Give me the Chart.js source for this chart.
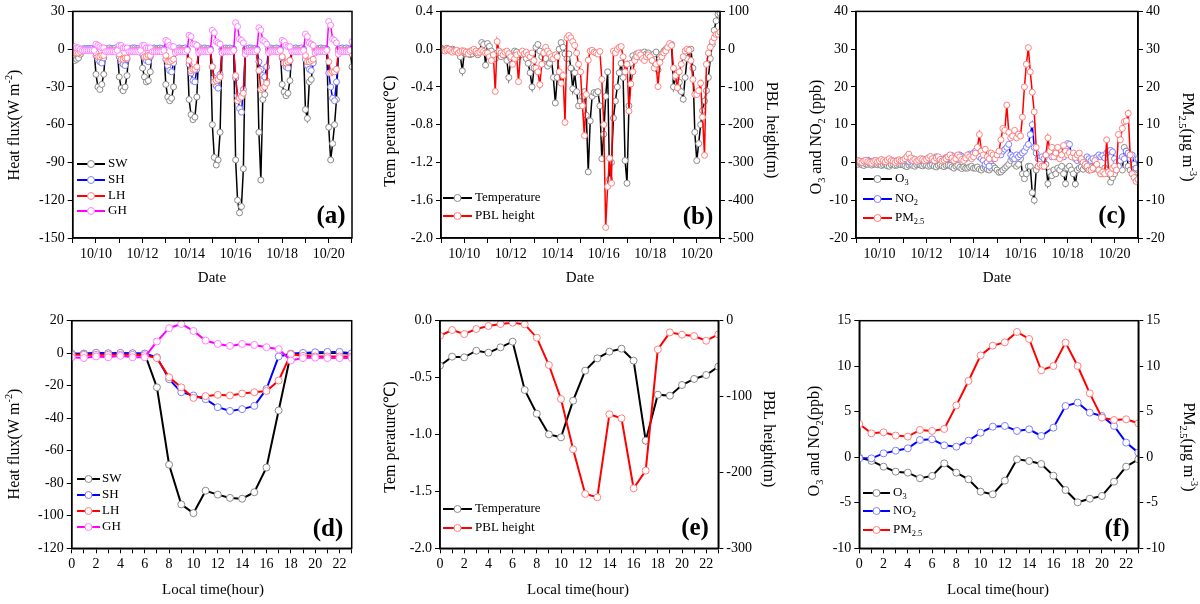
<!DOCTYPE html>
<html>
<head>
<meta charset="utf-8">
<script src="https://cdn.jsdelivr.net/npm/chart.js@4.4.1/dist/chart.umd.min.js"></script>
<style>
  html, body { margin: 0; padding: 0; background: #fff; }
  #wrap { position: relative; width: 1200px; height: 604px; overflow: hidden; }
  canvas { position: absolute; left: 0; top: 0; }
</style>
</head>
<body>
<div id="wrap">
  <canvas id="pa" width="1200" height="604"></canvas>
  <canvas id="pb" width="1200" height="604"></canvas>
  <canvas id="pc" width="1200" height="604"></canvas>
  <canvas id="pd" width="1200" height="604"></canvas>
  <canvas id="pe" width="1200" height="604"></canvas>
  <canvas id="pf" width="1200" height="604"></canvas>
</div>
<script>
// ---- date axis (top row): one tick per day, label every other day ----
const DAYS = ['10/09','10/10','10/11','10/12','10/13','10/14','10/15','10/16','10/17','10/18','10/19','10/20','10/21'];
const STEP_DAYS = 2 / 24;   // series below are 2-hourly, starting 10/09 00:00

// (a) heat flux anomalies, W m-2  (one line = one day, 00..22h)
const SW = [
  -6,-9,-8,-7,-4,0,0,0,0,0,0,0,
  -20,-30,-32,-28,-20,0,0,0,0,0,0,0,
  -22,-31,-33,-30,-21,0,0,0,0,0,0,0,
  -15,-22,-26,-25,-18,0,0,0,0,0,0,0,
  -28,-38,-41,-39,-30,0,0,0,0,0,0,0,
  -40,-52,-56,-54,-38,0,0,0,0,0,0,0,
  -60,-86,-92,-88,-66,0,0,0,0,0,0,0,
  -88,-120,-130,-125,-95,0,0,0,0,0,0,0,
  -66,-104,-40,-36,-25,0,0,0,0,0,0,0,
  -28,-34,-37,-35,-25,0,0,0,0,0,0,0,
  -48,-55,-26,-24,-10,0,0,0,0,0,0,0,
  -62,-88,-75,-60,-40,0,0,0,0,0,0,0,
  -14
];
const SH = [
  -1,-2,-3,-3,-2,0,0.5,0.5,0.5,0.5,0.5,0,
  -5,-8,-10,-11,-7,0,0.5,1,0.5,0.5,1,0,
  -6,-10,-12,-13,-8,0,0.5,1,1,0.5,0.5,0,
  -4,-7,-9,-10,-6,0,1,0.5,0.5,1,0.5,0,
  -8,-13,-17,-18,-11,0,0.5,1,0.5,0.5,1,0,
  -12,-19,-25,-26,-16,0,1,0.5,1,0.5,0.5,0,
  -14,-23,-29,-31,-20,0,0.5,1,0.5,1,0.5,0,
  -23,-37,-47,-50,-32,-1,0.5,1,1,0.5,0.5,0,
  -10,-16,-21,-22,-14,0,1,0.5,0.5,1,0.5,0,
  -7,-11,-14,-15,-9,0,0.5,1,0.5,0.5,1,0,
  -8,-13,-16,-17,-11,0,0.5,0.5,1,0.5,0.5,0,
  -19,-30,-39,-41,-26,-1,0.5,1,0.5,1,0.5,0,
  -3
];
const LH = [
  -2,-3,-3,-3,-2,-1,-1,-1,-1,-1,-1,-1,
  -3,-6,-6,-5,-5,-1,-1,-1,-1,-1,-1,-1,
  -4,-8,-8,-7,-7,-1,-1,-1,-1,-1,-1,-1,
  -3,-6,-6,-5,-5,-1,-1,-1,-1,-1,-1,-1,
  -5,-10,-10,-9,-8,-1,-1,-1,-1,-1,-1,-1,
  -9,-17,-16,-16,-14,-1,-1,-1,-1,-1,-1,-1,
  -14,-26,-25,-24,-22,-2,-1,-1,-1,-1,-1,-1,
  -21,-41,-39,-38,-35,-2,-2,-1,-1,-1,-1,-1,
  -17,-32,-31,-30,-27,-2,-1,-1,-1,-1,-1,-1,
  -6,-11,-11,-10,-9,-1,-1,-1,-1,-1,-1,-1,
  -5,-10,-10,-9,-8,-1,-1,-1,-1,-1,-1,-1,
  -10,-19,-18,-18,-16,-1,-1,-1,-1,-1,-1,-1,
  -4
];
const GH = [
  2,2,1,1,0,-1,-1,-1,-1,-1,-1,-1,
  4,3,2,1,1,-2,-2,-2,-2,-2,-2,-1,
  3,3,1,1,1,-2,-2,-2,-2,-2,-2,-1,
  3,3,1,1,1,-2,-2,-2,-2,-2,-2,-1,
  7,6,3,2,2,-3,-2,-2,-2,-2,-2,-1,
  11,10,4,4,3,-3,-2,-2,-2,-2,-2,-1,
  15,13,6,5,4,-3,-2,-2,-2,-2,-2,-1,
  21,18,8,7,5,-4,-2,-2,-2,-2,-2,-1,
  17,15,7,6,4,-3,-2,-2,-2,-2,-2,-1,
  7,6,3,2,2,-2,-2,-2,-2,-2,-2,-1,
  12,10,5,4,3,-3,-2,-2,-2,-2,-2,-1,
  22,19,8,7,5,-4,-2,-2,-2,-2,-2,-1,
  6
];

// (b) temperature (degC) and PBL height (m)
const TEMP = [
  0.01,0.00,-0.01,0.01,0.00,-0.02,0.00,-0.01,-0.03,-0.02,-0.08,-0.23,
  -0.04,-0.05,-0.03,-0.06,-0.05,-0.02,-0.04,-0.06,-0.02,0.07,0.05,-0.17,
  0.06,0.03,-0.02,-0.06,-0.10,-0.04,-0.05,-0.08,-0.06,-0.04,-0.12,-0.30,
  -0.10,-0.05,-0.02,-0.03,-0.08,-0.06,-0.03,-0.05,-0.10,-0.15,-0.25,-0.40,
  -0.20,0.02,0.05,-0.02,-0.08,-0.05,-0.10,-0.18,-0.15,-0.10,-0.30,-0.57,
  -0.30,0.00,0.07,0.02,-0.05,-0.10,-0.05,-0.20,-0.42,-0.25,-0.45,-0.60,
  -0.55,-0.50,-0.45,-0.70,-1.30,-0.76,-0.50,-0.46,-0.47,-0.45,-0.60,-1.16,
  -0.90,-0.50,-0.24,-1.38,-1.20,-0.73,-0.55,-0.40,-0.25,-0.15,-0.30,-1.18,
  -1.42,-0.60,-0.15,-0.07,-0.10,-0.05,-0.08,-0.04,-0.06,-0.03,-0.05,-0.04,
  -0.08,-0.12,-0.05,-0.03,-0.22,-0.10,-0.05,-0.02,0.00,0.02,0.04,0.05,
  -0.40,-0.30,-0.25,-0.35,-0.45,-0.53,-0.30,-0.10,-0.02,0.00,-0.20,-0.88,
  -1.18,-1.00,-0.80,-0.65,-0.55,-0.44,-0.30,-0.10,0.05,0.20,0.30,0.37,
  0.38
];
const PBL = [
  0,-3,-5,-2,0,-4,-8,-5,-3,-10,-6,-4,
  -5,-8,-12,-6,-3,0,-5,-10,-8,-3,-6,-10,
  -10,-20,-30,-15,-112,20,-5,-10,-15,-8,-5,-12,
  -20,-40,-25,-15,-86,-10,-5,-12,-8,-15,-20,-10,
  -30,-50,-60,-94,-40,-10,5,-5,-12,-20,-25,-15,
  -20,-60,-90,-70,-194,30,36,30,20,10,-10,-40,
  -60,-150,-229,-120,-29,-5,-3,-8,-10,-13,-6,-80,
  -200,-472,-364,-289,-355,-5,-10,0,5,7,-20,-60,
  -40,-164,-92,-60,-30,-20,-10,-15,-25,-30,-20,-15,
  -20,-30,-50,-40,-99,-35,-20,-10,-5,5,15,10,
  -50,-70,-102,-60,-40,-20,-5,0,-3,-30,-80,-120,
  -120,-110,-90,-180,-281,-40,-10,5,20,30,39,40,
  45
];

// (c) O3, NO2 (ppb) and PM2.5 (ug m-3)
const O3 = [
  -0.3,-0.5,-0.2,-0.6,-0.8,-0.4,-0.5,-0.3,-0.7,-0.5,-0.4,-0.6,
  -0.5,-0.8,-0.6,-0.4,-0.9,-1.0,-0.6,-0.5,-0.8,-0.7,-0.5,-0.6,
  -0.6,-0.9,-1.1,-0.7,-0.5,-0.8,-1.0,-0.6,-0.4,-0.7,-0.9,-0.6,
  -0.7,-1.0,-0.8,-0.6,-1.0,-1.2,-0.8,-0.6,-0.9,-1.1,-0.8,-0.7,
  -0.8,-1.2,-1.5,-1.0,-0.8,-1.3,-1.6,-1.2,-1.5,-1.5,-1.2,-1.0,
  -1.5,-1.5,-1.2,-1.8,-2.0,-1.5,-1.2,-1.8,-2.0,-1.5,-1.0,-1.5,
  -2.0,-2.6,-2.5,-2.0,-1.5,-1.0,-0.5,0.5,1.0,-0.5,-1.0,-0.5,
  1.0,-3.0,-4.3,-3.0,-1.0,-1.0,-8.0,-10.0,-2.0,-1.0,-0.5,-0.8,
  -1.0,-0.5,-5.6,-2.5,-3.5,-2.0,-3.0,-1.5,-2.0,-1.0,-3.0,-5.6,
  -1.5,-1.0,-2.0,-3.0,-5.7,-2.0,-1.5,-1.2,-1.8,-1.0,-1.5,-2.0,
  -1.2,-1.8,-1.0,-1.5,-2.0,-3.0,-3.0,-1.5,-2.0,-3.0,-5.2,-4.0,
  -3.0,-2.0,-1.0,-1.5,-2.0,4.0,3.0,-1.0,-2.0,-3.0,-1.5,-2.5,
  -2.0
];
const NO2 = [
  0.3,0.5,0.2,0.0,0.3,0.4,0.6,0.3,0.2,0.4,0.5,0.3,
  0.4,0.6,0.3,0.2,0.5,0.8,0.6,0.4,0.3,0.5,0.6,0.4,
  0.5,0.8,0.6,0.3,0.7,1.0,0.8,0.5,0.4,0.7,0.9,0.6,
  0.8,1.2,0.9,0.6,1.0,1.5,1.2,0.8,0.6,1.0,1.3,1.0,
  1.2,1.8,1.0,0.8,1.5,2.0,1.6,1.2,1.0,1.8,2.2,2.0,
  2.5,3.0,2.2,1.5,1.0,0.5,-0.5,0.0,-1.0,0.5,1.0,1.5,
  2.0,2.5,2.0,3.0,3.5,4.0,4.8,2.0,1.5,1.0,2.0,1.5,
  2.0,2.5,3.0,4.0,4.8,7.4,10.0,4.0,2.5,1.0,0.5,1.5,
  1.0,2.0,2.5,3.0,1.5,2.5,1.5,2.0,3.0,2.0,1.5,4.0,
  5.0,4.8,2.0,1.5,1.0,0.5,1.2,0.5,0.0,0.8,1.5,1.0,
  0.5,1.0,0.3,1.5,2.0,1.5,1.8,1.2,2.5,3.0,3.2,2.8,
  1.0,0.0,-1.0,0.5,1.5,1.0,3.0,2.5,1.0,2.0,-0.5,-1.5,
  1.0
];
const PM25 = [
  0.2,0.5,0.3,0.0,0.4,0.6,0.2,0.0,-0.2,0.3,0.5,0.2,
  0.4,0.8,0.5,0.2,0.6,1.0,0.5,0.3,0.0,0.4,0.7,0.5,
  0.6,1.0,1.5,2.2,1.2,0.5,0.8,0.3,0.6,1.0,0.8,0.5,
  0.8,1.2,1.6,1.0,0.5,1.2,1.5,0.8,0.4,0.6,1.0,1.5,
  2.0,1.2,0.5,1.0,2.0,1.5,0.8,0.5,1.2,2.0,1.5,1.0,
  1.5,2.5,4.0,7.4,3.0,2.0,3.5,1.5,1.0,2.5,2.0,1.0,
  2.0,3.0,6.0,9.0,8.5,15.2,8.0,6.5,7.0,8.5,6.5,7.5,
  7.0,12.0,20.0,26.0,30.4,24.0,18.6,13.4,4.0,-1.0,-0.5,-1.0,
  -1.0,2.0,6.5,3.0,4.0,1.5,2.5,4.0,1.0,2.0,4.5,3.0,
  2.0,2.6,1.5,2.5,1.3,2.0,2.5,1.0,0.0,-0.5,-1.0,-2.0,
  -2.0,-1.5,0.5,-0.5,-2.0,-3.0,-2.5,-3.0,6.0,-2.5,-3.0,-1.5,
  -1.0,-2.0,7.4,6.0,9.0,10.8,11.0,13.0,2.0,-3.0,-4.0,-5.0,
  -4.5
];

// ---- diurnal composites (bottom row), local hour 0..23 ----
const HOURS = [0,1,2,3,4,5,6,7,8,9,10,11,12,13,14,15,16,17,18,19,20,21,22,23];
const SW_H = [-0.3,-0.3,-0.2,-0.3,-0.2,-0.3,-0.3,-21,-68.6,-93,-98.4,-84.6,-87,-89,-89.5,-85.5,-70.3,-35.2,-0.3,-0.2,0,0.1,0.2,-0.3];
const SH_H = [-0.4,-0.3,0.3,0,0.2,0,-0.2,-2.5,-16,-24,-26,-28.3,-33.2,-35.5,-34.4,-32.4,-22,-2,-0.4,0.2,0.6,0.8,0.8,0];
const LH_H = [-1,-1,-1,-1,-1,-1,-1.2,-3,-14.8,-21,-27.5,-26.4,-25.6,-26,-24.8,-24,-23.2,-16.8,-0.6,-1.6,-2,-2,-2,-2];
const GH_H = [-2.5,-3,-2,-2.5,-1.6,-2.5,-2.5,7.2,15.4,18,13.7,7.8,5.7,4.5,5.7,5.1,3.7,2.5,-4.5,-3,-2.7,-3,-3,-3];
const TEMP_H = [-0.395,-0.316,-0.322,-0.264,-0.281,-0.234,-0.184,-0.609,-0.817,-0.999,-1.025,-0.703,-0.439,-0.331,-0.272,-0.246,-0.351,-1.054,-0.65,-0.659,-0.565,-0.512,-0.477,-0.404];
const PBL_H = [-19.8,-12.3,-17.6,-11,-7,-4.4,-2.6,-4.8,-22.4,-58.4,-103.2,-169.5,-228.4,-232.8,-123.4,-128.7,-220.9,-197.6,-37.8,-15.4,-18.4,-20.2,-26.4,-18];
const O3_H = [-0.04,-0.4,-1.03,-1.58,-1.69,-2.31,-2.05,-0.67,-1.69,-2.42,-3.78,-4.07,-2.57,-0.23,-0.41,-0.74,-2.02,-3.6,-4.95,-4.55,-4.25,-2.68,-1.03,-0.23];
const NO2_H = [-0.12,-0.12,0.43,0.72,0.98,1.9,1.97,1.31,1.16,1.82,2.7,3.36,3.44,2.89,3.07,2.34,3.25,5.63,6.0,4.9,4.53,3.44,1.61,0.51];
const PM25_H = [3.66,2.63,2.74,2.38,2.27,3.0,2.89,3.11,5.7,8.38,11.19,12.26,12.62,13.76,12.99,9.55,10.02,12.59,10.02,7.02,4.35,4.09,4.17,3.73];

// ---------------------------------------------------------------
const SERIF = '"Liberation Serif", "Times New Roman", serif';
Chart.defaults.font.family = SERIF;
Chart.defaults.color = '#000';

const STYLE = {
  black:   ['#000000', '#8a8a8a'],
  blue:    ['#0000ff', '#8080ff'],
  red:     ['#ff0000', '#ff8080'],
  magenta: ['#ff00ff', '#ff80ff']
};

// text with sub/superscript parts: [[text, ''|'sub'|'sup'], ...]
function richText(ctx, parts, x, y, size, rot, align, bold) {
  const f = s => (bold ? 'bold ' : '') + s + 'px ' + SERIF;
  ctx.save();
  ctx.translate(x, y);
  ctx.rotate(rot || 0);
  let w = 0;
  parts.forEach(([t, m]) => { ctx.font = f(m ? size * 0.65 : size); w += ctx.measureText(t).width; });
  let cx = align === 'left' ? 0 : -w / 2;
  ctx.fillStyle = '#000';
  ctx.textAlign = 'left';
  ctx.textBaseline = 'middle';
  parts.forEach(([t, m]) => {
    const s = m ? size * 0.65 : size;
    ctx.font = f(s);
    const dy = m === 'sub' ? size * 0.3 : (m === 'sup' ? -size * 0.35 : 0);
    ctx.fillText(t, cx, dy);
    cx += ctx.measureText(t).width;
  });
  ctx.restore();
}

const decorPlugin = {
  id: 'decor',
  afterDatasetsDraw(chart) {
    const a = chart.chartArea, ctx = chart.ctx;
    ctx.save();
    ctx.strokeStyle = '#000';
    ctx.lineWidth = 1.5;
    ctx.strokeRect(a.left, a.top, a.right - a.left, a.bottom - a.top);
    ctx.restore();
  },
  afterDraw(chart) {
    const o = chart.options.plugins.decor, ctx = chart.ctx;
    (o.titles || []).forEach(t => richText(ctx, t.parts, t.x, t.y, t.size || 16, t.rot || 0, 'center'));
    // legend, drawn inside the plot like the original
    const lg = o.legend;
    chart.data.datasets.forEach((ds, i) => {
      const y = lg.ys[i];
      ctx.save();
      ctx.strokeStyle = ds.borderColor;
      ctx.lineWidth = 2;
      ctx.beginPath(); ctx.moveTo(lg.x0, y); ctx.lineTo(lg.x1, y); ctx.stroke();
      ctx.beginPath();
      ctx.arc((lg.x0 + lg.x1) / 2, y, 3.5, 0, Math.PI * 2);
      ctx.fillStyle = '#fff'; ctx.fill();
      ctx.strokeStyle = ds.pointBorderColor; ctx.lineWidth = 1; ctx.stroke();
      ctx.restore();
      richText(ctx, lg.labels[i], lg.tx, y, 13, 0, 'left');
    });
    richText(ctx, [[o.tag, '']], o.tagX, o.tagY, 25, 0, 'center', true);
  }
};

function series(xs, ys, style, width, radius, axis) {
  return {
    data: ys.map((v, i) => ({ x: xs[i], y: v })),
    borderColor: STYLE[style][0],
    pointBorderColor: STYLE[style][1],
    pointBackgroundColor: '#fff',
    backgroundColor: '#fff',
    borderWidth: width,
    pointRadius: radius,
    pointBorderWidth: 1,
    tension: 0,
    yAxisID: axis || 'y'
  };
}

const tickGrid = { drawOnChartArea: false, drawTicks: true, tickLength: 5, color: '#000', lineWidth: 1 };
const axBorder = { display: true, color: '#000', width: 1.5 };
const intLabel = v => String(Math.round(v));
const oneDec = v => (Math.round(v * 10) / 10).toFixed(1);

function yAxis(pos, min, max, step, fmt) {
  return {
    position: pos, min: min, max: max,
    ticks: { stepSize: step, callback: fmt, font: { size: 14 }, padding: 3, color: '#000' },
    grid: tickGrid, border: axBorder,
    afterFit: s => { s.width = 40; }
  };
}

function panel(id, box, xAxis, datasets, y, y1, decor) {
  const scales = { x: xAxis, y: y };
  if (y1) scales.y1 = y1;
  // later series sit on top, as in the original
  datasets.forEach((d, i) => { d.order = datasets.length - i; });
  new Chart(document.getElementById(id), {
    type: 'line',
    data: { datasets: datasets },
    options: {
      responsive: false,
      animation: false,
      layout: { padding: { left: box.L - 40, right: 1200 - box.R - (y1 ? 40 : 0), top: box.T, bottom: 604 - box.B - 30 } },
      scales: scales,
      plugins: { legend: { display: false }, tooltip: { enabled: false }, decor: decor }
    },
    plugins: [decorPlugin]
  });
}

function dateAxis() {
  return {
    type: 'linear', min: 0, max: DAYS.length - 1,
    ticks: { stepSize: 1, autoSkip: false, maxRotation: 0, padding: 3, font: { size: 14 }, color: '#000',
             callback: v => { const d = Math.round(v); return d % 2 === 1 ? DAYS[d] : ''; } },
    grid: tickGrid, border: axBorder,
    afterFit: s => { s.height = 30; }
  };
}
function hourAxis() {
  return {
    type: 'linear', min: HOURS[0], max: HOURS[HOURS.length - 1],
    ticks: { stepSize: 1, autoSkip: false, maxRotation: 0, padding: 3, font: { size: 14 }, color: '#000',
             callback: v => { const h = Math.round(v); return h % 2 === 0 ? String(h) : ''; } },
    grid: tickGrid, border: axBorder,
    afterFit: s => { s.height = 30; }
  };
}

const TX = SW.map((v, i) => i * STEP_DAYS);

const HF_TITLE = [['Heat flux(W m', ''], ['-2', 'sup'], [')', '']];
const T_TITLE = [['Tem perature(\u2103)', '']];
const PBL_TITLE = [['PBL height(m)', '']];
const GAS_TITLE_TOP = [['O', ''], ['3', 'sub'], [' and NO', ''], ['2', 'sub'], [' (ppb)', '']];
const GAS_TITLE = [['O', ''], ['3', 'sub'], [' and NO', ''], ['2', 'sub'], ['(ppb)', '']];
const PM_TITLE = [['PM', ''], ['2.5', 'sub'], ['(\u00b5g m', ''], ['-3', 'sup'], [')', '']];
const L_HF = [[['SW', '']], [['SH', '']], [['LH', '']], [['GH', '']]];
const L_TP = [[['Temperature', '']], [['PBL height', '']]];
const L_GAS = [[['O', ''], ['3', 'sub']], [['NO', ''], ['2', 'sub']], [['PM', ''], ['2.5', 'sub']]];

// (a)
panel('pa', { L: 72.7, R: 352, T: 9, B: 238 }, dateAxis(), [
  series(TX, SW, 'black', 1.5, 3),
  series(TX, SH, 'blue', 1.5, 3),
  series(TX, LH, 'red', 1.5, 3),
  series(TX, GH, 'magenta', 1.5, 3)
], yAxis('left', -150, 30, 30, intLabel), null, {
  titles: [{ parts: HF_TITLE, x: 15, y: 125, rot: -Math.PI / 2 }, { parts: [['Date', '']], x: 212, y: 278, size: 15 }],
  legend: { x0: 77, x1: 105, tx: 108, ys: [164, 180, 196, 211], labels: L_HF },
  tag: '(a)', tagX: 331, tagY: 217
});

// (b)
panel('pb', { L: 441, R: 720, T: 9, B: 238 }, dateAxis(), [
  series(TX, TEMP, 'black', 1.5, 3, 'y'),
  series(TX, PBL, 'red', 1.5, 3, 'y1')
], yAxis('left', -2.0, 0.4, 0.4, oneDec), yAxis('right', -500, 100, 100, intLabel), {
  titles: [{ parts: T_TITLE, x: 391, y: 131, rot: -Math.PI / 2 },
           { parts: PBL_TITLE, x: 771, y: 130, rot: Math.PI / 2 },
           { parts: [['Date', '']], x: 580, y: 278, size: 15 }],
  legend: { x0: 443, x1: 472, tx: 475, ys: [198, 216], labels: L_TP },
  tag: '(b)', tagX: 698, tagY: 218
});

// (c)
panel('pc', { L: 856, R: 1138, T: 9, B: 238 }, dateAxis(), [
  series(TX, O3, 'black', 1.5, 3, 'y'),
  series(TX, NO2, 'blue', 1.5, 3, 'y'),
  series(TX, PM25, 'red', 1.5, 3, 'y1')
], yAxis('left', -20, 40, 10, intLabel), yAxis('right', -20, 40, 10, intLabel), {
  titles: [{ parts: GAS_TITLE_TOP, x: 817, y: 137, rot: -Math.PI / 2 },
           { parts: PM_TITLE, x: 1187, y: 137, rot: Math.PI / 2 },
           { parts: [['Date', '']], x: 997, y: 278, size: 15 }],
  legend: { x0: 863, x1: 892, tx: 895, ys: [179, 199, 218], labels: L_GAS },
  tag: '(c)', tagX: 1112, tagY: 217
});

// (d)
panel('pd', { L: 71.7, R: 351.7, T: 320.7, B: 548.3 }, hourAxis(), [
  series(HOURS, SW_H, 'black', 2, 3.5),
  series(HOURS, SH_H, 'blue', 2, 3.5),
  series(HOURS, LH_H, 'red', 2, 3.5),
  series(HOURS, GH_H, 'magenta', 2, 3.5)
], yAxis('left', -120, 20, 20, intLabel), null, {
  titles: [{ parts: HF_TITLE, x: 15, y: 444, rot: -Math.PI / 2 }, { parts: [['Local time(hour)', '']], x: 213, y: 590, size: 15 }],
  legend: { x0: 77, x1: 100, tx: 102, ys: [479, 495, 511, 527], labels: L_HF },
  tag: '(d)', tagX: 328, tagY: 530
});

// (e)
panel('pe', { L: 440, R: 718.3, T: 320.7, B: 548.3 }, hourAxis(), [
  series(HOURS, TEMP_H, 'black', 2, 3.5, 'y'),
  series(HOURS, PBL_H, 'red', 2, 3.5, 'y1')
], yAxis('left', -2.0, 0.0, 0.5, oneDec), yAxis('right', -300, 0, 100, intLabel), {
  titles: [{ parts: T_TITLE, x: 391, y: 437, rot: -Math.PI / 2 },
           { parts: PBL_TITLE, x: 768, y: 439, rot: Math.PI / 2 },
           { parts: [['Local time(hour)', '']], x: 578, y: 590, size: 15 }],
  legend: { x0: 443, x1: 472, tx: 475, ys: [509, 528], labels: L_TP },
  tag: '(e)', tagX: 695, tagY: 529
});

// (f)
panel('pf', { L: 859.3, R: 1138.3, T: 320.7, B: 548.3 }, hourAxis(), [
  series(HOURS, O3_H, 'black', 2, 3.5, 'y'),
  series(HOURS, NO2_H, 'blue', 2, 3.5, 'y'),
  series(HOURS, PM25_H, 'red', 2, 3.5, 'y1')
], yAxis('left', -10, 15, 5, intLabel), yAxis('right', -10, 15, 5, intLabel), {
  titles: [{ parts: GAS_TITLE, x: 815, y: 441, rot: -Math.PI / 2 },
           { parts: PM_TITLE, x: 1188, y: 447, rot: Math.PI / 2 },
           { parts: [['Local time(hour)', '']], x: 998, y: 590, size: 15 }],
  legend: { x0: 863, x1: 890, tx: 893, ys: [493, 511, 530], labels: L_GAS },
  tag: '(f)', tagX: 1117, tagY: 530
});
</script>
</body>
</html>
